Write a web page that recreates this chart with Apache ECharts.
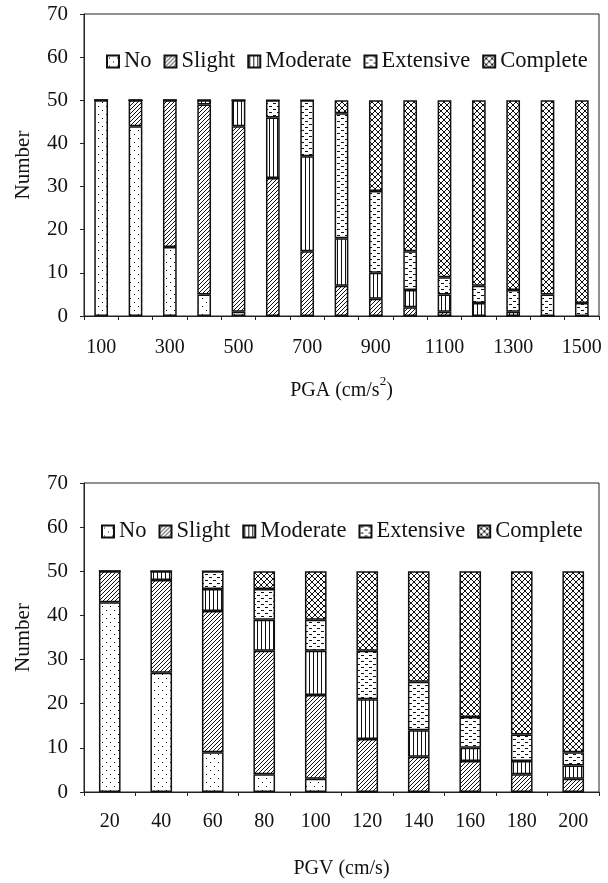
<!DOCTYPE html>
<html><head><meta charset="utf-8">
<script src="https://cdn.jsdelivr.net/npm/echarts@6/dist/echarts.min.js"></script>
<style>html,body{margin:0;padding:0;background:#fff}#c{width:608px;height:883px}</style>
</head><body><div id="c"></div>
<script>
var damageStates = ['No', 'Slight', 'Moderate', 'Extensive', 'Complete'];
var pgaCategories = ['100','200','300','400','500','600','700','800','900','1000','1100','1200','1300','1400','1500'];
var pgaNo        = [50, 44, 16,  5,  1,  0,  0,  0,  0,  0,  0,  0,  0,  0,  0];
var pgaSlight    = [ 0,  6, 34, 44, 43, 32, 15,  7,  4,  2,  1,  0,  0,  0,  0];
var pgaModerate  = [ 0,  0,  0,  1,  6, 14, 22, 11,  6,  4,  4,  3,  1,  0,  0];
var pgaExtensive = [ 0,  0,  0,  0,  0,  4, 13, 29, 19,  9,  4,  4,  5,  5,  3];
var pgaComplete  = [ 0,  0,  0,  0,  0,  0,  0,  3, 21, 35, 41, 43, 44, 45, 47];
var pgvCategories = ['20','40','60','80','100','120','140','160','180','200'];
var pgvNo        = [43, 27,  9,  4,  3,  0,  0,  0,  0,  0];
var pgvSlight    = [ 7, 21, 32, 28, 19, 12,  8,  7,  4,  3];
var pgvModerate  = [ 0,  2,  5,  7, 10,  9,  6,  3,  3,  3];
var pgvExtensive = [ 0,  0,  4,  7,  7, 11, 11,  7,  6,  3];
var pgvComplete  = [ 0,  0,  0,  4, 11, 18, 25, 33, 37, 41];
var yTicks = [0, 10, 20, 30, 40, 50, 60, 70];

var FONT = "'Liberation Serif','Times New Roman',serif";
function tile(w, h, draw) {
  var c = document.createElement('canvas'); c.width = w; c.height = h;
  var g = c.getContext('2d'); g.fillStyle = '#fff'; g.fillRect(0, 0, w, h);
  g.fillStyle = '#111'; draw(g); return {image: c, repeat: 'repeat'};
}
var patterns = {
  No: tile(8, 8, function (g) { g.fillRect(2, 2, 1, 1); g.fillRect(6, 6, 1, 1); }),
  Slight: tile(4, 4, function (g) { for (var i = 0; i < 4; i++) g.fillRect(i, 3 - i, 1, 1); }),
  Moderate: tile(4, 4, function (g) { g.fillRect(1, 0, 1, 4); }),
  Extensive: tile(8, 6, function (g) { g.fillRect(1, 1, 3, 1); g.fillRect(5, 4, 3, 1); }),
  Complete: tile(6, 6, function (g) { for (var i = 0; i < 6; i++) { g.fillRect(i, i, 1, 1); g.fillRect(5 - i, i, 1, 1); } })
};
var pgaData = [pgaNo, pgaSlight, pgaModerate, pgaExtensive, pgaComplete];
var pgvData = [pgvNo, pgvSlight, pgvModerate, pgvExtensive, pgvComplete];

var series = [];
damageStates.forEach(function (name, i) {
  series.push({name: name, type: 'bar', stack: 'a', xAxisIndex: 0, yAxisIndex: 0, barWidth: '40%',
    data: pgaData[i], itemStyle: {color: patterns[name], borderColor: '#111', borderWidth: 1.5}});
});
damageStates.forEach(function (name, i) {
  series.push({name: name, type: 'bar', stack: 'b', xAxisIndex: 1, yAxisIndex: 1, barWidth: '42%',
    data: pgvData[i], itemStyle: {color: patterns[name], borderColor: '#111', borderWidth: 1.5}});
});

function yAxis(gi) {
  return {type: 'value', gridIndex: gi, min: yTicks[0], max: yTicks[yTicks.length - 1], interval: 10,
    name: 'Number', nameLocation: 'middle', nameGap: 50, nameRotate: 90,
    nameTextStyle: {fontFamily: FONT, fontSize: 21, color: '#111'},
    axisLine: {show: true, lineStyle: {color: '#222', width: 1}},
    axisTick: {show: true, inside: false, length: 4, lineStyle: {color: '#222'}},
    axisLabel: {fontFamily: FONT, fontSize: 21, color: '#111', margin: 16},
    splitLine: {show: false}};
}
function xAxis(gi, cats, interval, name, gap, margin, rich) {
  return {type: 'category', gridIndex: gi, data: cats, boundaryGap: true,
    name: name, nameLocation: 'middle', nameGap: gap,
    nameTextStyle: {fontFamily: FONT, fontSize: 20, color: '#111', rich: rich},
    axisLine: {show: true, lineStyle: {color: '#222', width: 1}},
    axisTick: {show: true, inside: false, length: 4, interval: 0, lineStyle: {color: '#222'}},
    axisLabel: {fontFamily: FONT, fontSize: 20, color: '#111', margin: margin, interval: interval}};
}
var legendBase = {orient: 'horizontal', itemWidth: 12, itemHeight: 12, itemGap: 12,
  textStyle: {fontFamily: FONT, fontSize: 22.5, color: '#111'}, icon: 'rect', data: damageStates, selectedMode: false};

var chart = echarts.init(document.getElementById('c'), null, {renderer: 'canvas'});
chart.setOption({
  animation: false,
  backgroundColor: '#fff',
  grid: [
    {left: 84, right: 9, top: 14, height: 302, show: true, borderColor: '#222', borderWidth: 1, containLabel: false},
    {left: 84, right: 9, top: 483, height: 309, show: true, borderColor: '#222', borderWidth: 1, containLabel: false}
  ],
  legend: [
    Object.assign({left: 101, top: 45}, legendBase),
    Object.assign({left: 96, top: 515}, legendBase)
  ],
  xAxis: [
    xAxis(0, pgaCategories, 1, '{a|PGA (cm/s}{s|2}{a|)}', 59, 22,
      {a: {fontFamily: FONT, fontSize: 20, color: '#111', lineHeight: 26, verticalAlign: 'bottom'},
       s: {fontFamily: FONT, fontSize: 13, color: '#111', lineHeight: 14, verticalAlign: 'top'}}),
    xAxis(1, pgvCategories, 0, 'PGV (cm/s)', 67, 20, null)
  ],
  yAxis: [yAxis(0), yAxis(1)],
  series: series
});
</script></body></html>
